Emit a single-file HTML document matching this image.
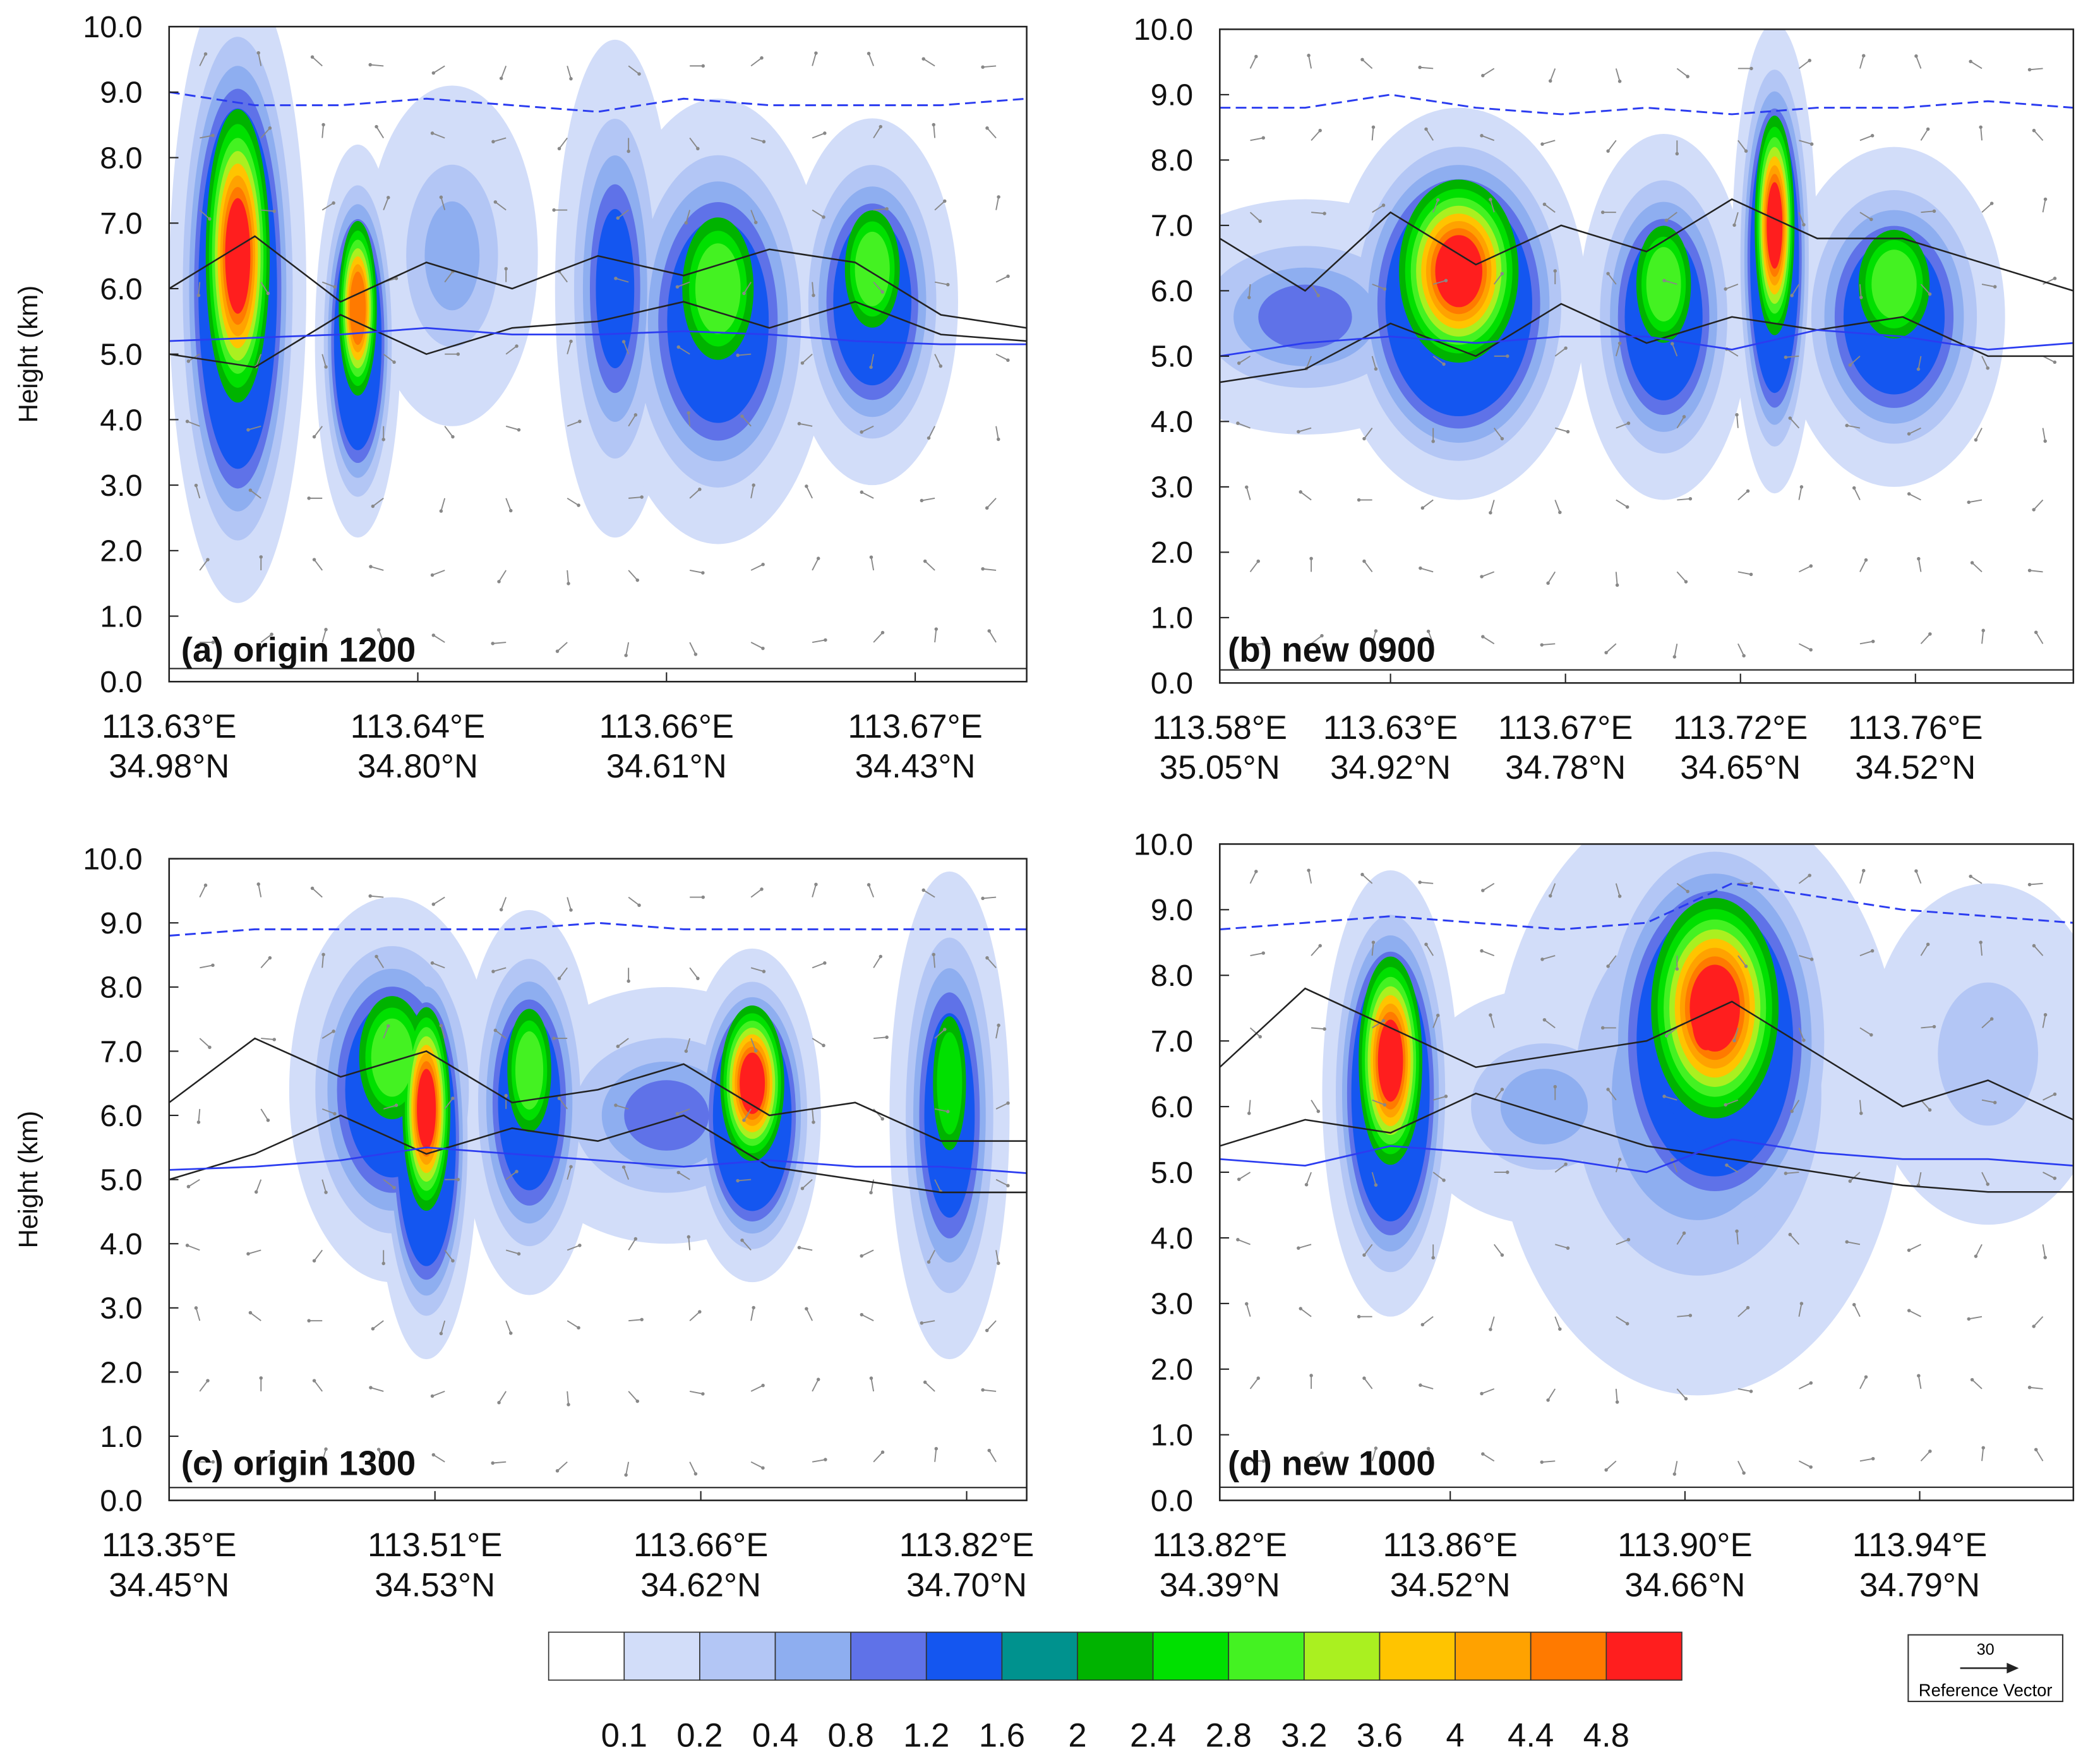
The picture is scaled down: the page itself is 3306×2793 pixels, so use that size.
<!DOCTYPE html>
<html><head><meta charset="utf-8">
<style>
html,body{margin:0;padding:0;background:#fff;}
svg{display:block;font-family:"Liberation Sans",sans-serif;}
</style></head>
<body>
<svg id="fig" width="3306" height="2793" viewBox="0 0 1568 1325" preserveAspectRatio="none" xmlns="http://www.w3.org/2000/svg"></svg>
<script>
const NS="http://www.w3.org/2000/svg";
const svg=document.getElementById('fig');
const levelColors=["#ffffff","#d2ddf9","#b3c6f5","#8eaef0","#5f72e8","#1456f0","#00928e","#00b300","#00e000","#44f222","#aaf020","#ffc400","#ffa200","#ff7a00","#ff1e1e"];
const levelLabels=["0.1","0.2","0.4","0.8","1.2","1.6","2","2.4","2.8","3.2","3.6","4","4.4","4.8"];
const yTicks=[0,1,2,3,4,5,6,7,8,9,10];
const panelTitles=["(a) origin 1200","(b) new 0900","(c) origin 1300","(d) new 1000"];
const xLonLabels=[["113.63°E","113.64°E","113.66°E","113.67°E"],["113.58°E","113.63°E","113.67°E","113.72°E","113.76°E"],["113.35°E","113.51°E","113.66°E","113.82°E"],["113.82°E","113.86°E","113.90°E","113.94°E"]];
const xLatLabels=[["34.98°N","34.80°N","34.61°N","34.43°N"],["35.05°N","34.92°N","34.78°N","34.65°N","34.52°N"],["34.45°N","34.53°N","34.62°N","34.70°N"],["34.39°N","34.52°N","34.66°N","34.79°N"]];
const xTickFrac=[[0,0.29,0.58,0.87],[0,0.2,0.405,0.61,0.815],[0,0.31,0.62,0.93],[0,0.27,0.545,0.82]];
// blobs: [xFrac, centerKm, halfWidthFrac, halfHeightKm, maxLevel]
const blobsA=[[0.08,6.0,0.08,4.8,14],[0.22,5.2,0.05,3.0,13],[0.33,6.5,0.1,2.6,3],[0.52,6.0,0.07,3.8,6],[0.64,5.5,0.13,3.4,9],[0.82,5.8,0.1,2.8,9]];
const blobsB=[[0.1,5.6,0.2,1.8,4],[0.28,5.8,0.15,3.0,14],[0.52,5.6,0.1,2.8,9],[0.65,6.5,0.05,3.6,14],[0.79,5.6,0.13,2.6,9]];
const blobsC=[[0.26,6.4,0.12,3.0,9],[0.3,5.6,0.06,3.4,14],[0.42,6.2,0.08,3.0,9],[0.58,6.0,0.18,2.0,4],[0.68,6.0,0.08,2.6,14],[0.91,6.0,0.07,3.8,8]];
const blobsD=[[0.2,6.2,0.08,3.4,14],[0.38,6.0,0.16,1.8,3],[0.56,6.2,0.24,4.6,4],[0.58,7.0,0.16,3.6,14],[0.57,6.8,0.09,2.4,14],[0.9,6.8,0.14,2.6,2]];
const blobSets=[blobsA,blobsB,blobsC,blobsD];
const meltA=[5.2,5.25,5.3,5.4,5.3,5.3,5.35,5.3,5.2,5.15,5.15];
const meltB=[5.0,5.2,5.3,5.2,5.3,5.3,5.1,5.4,5.3,5.1,5.2];
const meltC=[5.15,5.2,5.3,5.5,5.4,5.3,5.2,5.3,5.2,5.2,5.1];
const meltD=[5.2,5.1,5.4,5.3,5.2,5.0,5.5,5.3,5.2,5.2,5.1];
const melts=[meltA,meltB,meltC,meltD];
const topA=[9.0,8.8,8.8,8.9,8.8,8.7,8.9,8.8,8.8,8.8,8.9];
const topB=[8.8,8.8,9.0,8.8,8.7,8.8,8.7,8.8,8.8,8.9,8.8];
const topC=[8.8,8.9,8.9,8.9,8.9,9.0,8.9,8.9,8.9,8.9,8.9];
const topD=[8.7,8.8,8.9,8.8,8.7,8.8,9.4,9.2,9.0,8.9,8.8];
const tops=[topA,topB,topC,topD];
const contourA=[[5.0,4.8,5.6,5.0,5.4,5.5,5.8,5.4,5.8,5.3,5.2],[6.0,6.8,5.8,6.4,6.0,6.5,6.2,6.6,6.4,5.6,5.4]];
const contourB=[[4.6,4.8,5.5,5.0,5.8,5.2,5.6,5.4,5.6,5.0,5.0],[6.8,6.0,7.2,6.4,7.0,6.6,7.4,6.8,6.8,6.4,6.0]];
const contourC=[[5.0,5.4,6.0,5.4,5.8,5.6,6.0,5.2,5.0,4.8,4.8],[6.2,7.2,6.6,7.0,6.2,6.4,6.8,6.0,6.2,5.6,5.6]];
const contourD=[[5.4,5.8,5.6,6.2,5.8,5.4,5.2,5.0,4.8,4.7,4.7],[6.6,7.8,7.2,6.6,6.8,7.0,7.6,6.8,6.0,6.4,5.8]];
const contours=[contourA,contourB,contourC,contourD];
const boxes=[[127,20,644,492],[916,22,641,491],[127,645,644,482],[916,634,641,493]];
const labelXs=[[136,497],[922,497],[136,1108],[922,1108]];

function el(tag,attrs,parent){const e=document.createElementNS(NS,tag);for(const k in attrs)e.setAttribute(k,attrs[k]);(parent||svg).appendChild(e);return e;}

boxes.forEach((b,p)=>{
  const [X,Y,W,H]=b;
  const g=el('g',{});
  
  
  const sx=f=>X+f*W, sy=h=>Y+H-(h/10)*H;
  const clip=el('clipPath',{id:'c'+p},g);el('rect',{x:X,y:Y,width:W,height:H},clip);
  const plot=el('g',{'clip-path':'url(#c'+p+')'},g);
  for(let l=1;l<=14;l++){
    if(l===6) continue;
    blobSets[p].forEach((bl,bi)=>{
      const [fx,ch,hw,hh,ml]=bl;
      if(l>ml) return;
      const s=1-0.85*Math.pow((l-1)/ml,0.55);
      const e=el('ellipse',{cx:sx(fx),cy:sy(ch+(l>6?0.5:0)),rx:hw*W*s,ry:hh/10*H*s,fill:levelColors[l]},plot);
      
      
    });
  }
  for(let i=0;i<14;i++)for(let j=0;j<9;j++){
    const ax=sx((i+0.5)/14), ay=sy(0.6+j*1.1);
    const ang=((i*37+j*53)%360)*Math.PI/180;
    const len=10;
    const x2=ax+Math.cos(ang)*len,y2=ay-Math.sin(ang)*len;
    el('line',{x1:ax,y1:ay,x2:x2,y2:y2,stroke:'#888','stroke-width':0.9},plot);
    el('circle',{cx:x2,cy:y2,r:1.3,fill:'#888'},plot);
  }
  contours[p].forEach((c,ci)=>{
    const pts=c.map((v,i)=>sx(i/(c.length-1))+','+sy(v)).join(' ');
    const e=el('polyline',{points:pts,fill:'none',stroke:'#222','stroke-width':1.2},plot);
    
    
  });
  const mp=melts[p].map((v,i)=>sx(i/(melts[p].length-1))+','+sy(v)).join(' ');
  const m=el('polyline',{points:mp,fill:'none',stroke:'#2b3cf0','stroke-width':1.3},plot);
  
  
  const tp=tops[p].map((v,i)=>sx(i/(tops[p].length-1))+','+sy(v)).join(' ');
  const t=el('polyline',{points:tp,fill:'none',stroke:'#2b3cf0','stroke-width':1.4,'stroke-dasharray':'8,4'},plot);
  
  
  el('line',{x1:X,y1:sy(0.2),x2:X+W,y2:sy(0.2),stroke:'#222','stroke-width':1},plot);
  el('rect',{x:X,y:Y,width:W,height:H,fill:'none',stroke:'#222','stroke-width':1.2},g);
  yTicks.forEach(v=>{
    el('line',{x1:X,y1:sy(v),x2:X+7,y2:sy(v),stroke:'#222'},g);
    const tx=el('text',{x:X-20,y:sy(v)+8,'text-anchor':'end','font-size':23,fill:'#111'},g);
    tx.textContent=v.toFixed(1);
    
    
  });
  if(p%2==0){
    const yt=el('text',{x:28,y:Y+H/2,'text-anchor':'middle','font-size':20,fill:'#111',transform:`rotate(-90 28 ${Y+H/2})`},g);
    yt.textContent='Height (km)';
    
    
  }
  xTickFrac[p].forEach((f,i)=>{
    el('line',{x1:sx(f),y1:Y+H,x2:sx(f),y2:Y+H-7,stroke:'#222'},g);
    const a=el('text',{x:sx(f),y:Y+H+42,'text-anchor':'middle','font-size':25,fill:'#111'},g);
    a.textContent=xLonLabels[p][i];
    
    
    const b2=el('text',{x:sx(f),y:Y+H+72,'text-anchor':'middle','font-size':25,fill:'#111'},g);
    b2.textContent=xLatLabels[p][i];
    
    
  });
  const tl=el('text',{x:labelXs[p][0],y:labelXs[p][1],'font-size':26,'font-weight':'bold',fill:'#111'},g);
  tl.textContent=panelTitles[p];
  
  
});
const cb=el('g',{});


const cbX=412,cbW=851,cbY=1226,cbH=36,n=levelColors.length,bw=cbW/n;
levelColors.forEach((c,i)=>{
  const r=el('rect',{x:cbX+i*bw,y:cbY,width:bw,height:cbH,fill:c,stroke:'#333','stroke-width':0.8},cb);
  
  
});
levelLabels.forEach((l,i)=>{
  const t=el('text',{x:cbX+(i+1)*bw,y:1312,'text-anchor':'middle','font-size':25,fill:'#111'},cb);
  t.textContent=l;
  
  
});
const rv=el('g',{});


el('rect',{x:1433,y:1228,width:116,height:50,fill:'#fff',stroke:'#333'},rv);
const r30=el('text',{x:1491,y:1243,'text-anchor':'middle','font-size':12},rv);r30.textContent='30';
el('line',{x1:1472,y1:1253,x2:1514,y2:1253,stroke:'#222','stroke-width':1.2},rv);
el('polygon',{points:'1516,1253 1507,1249 1507,1257',fill:'#222'},rv);
const rt=el('text',{x:1491,y:1274,'text-anchor':'middle','font-size':13},rv);rt.textContent='Reference Vector';
</script>
</body></html>
